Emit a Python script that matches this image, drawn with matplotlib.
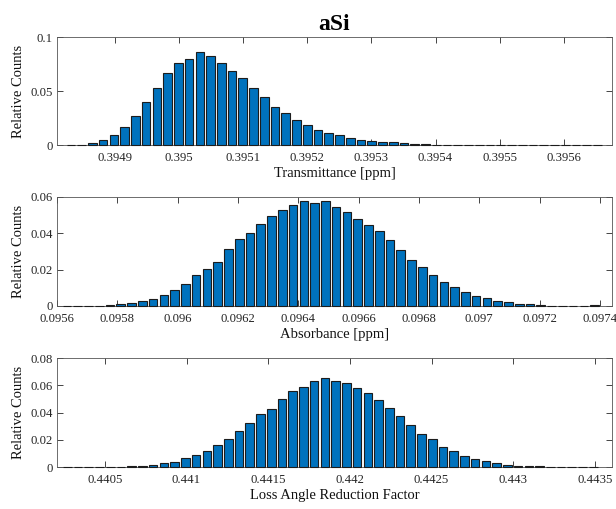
import numpy as np
import matplotlib
matplotlib.use("Agg")
import matplotlib.pyplot as plt
from matplotlib.ticker import FuncFormatter

# ---- histogram data (relative counts per bin, 50 bins each) ----
trans_first_center = 0.3948316
trans_bin_width = 1.675e-5
trans_counts = [
    0.0005, 0.0005, 0.0015, 0.0045, 0.009, 0.017, 0.027, 0.040, 0.053, 0.067,
    0.076, 0.080, 0.086, 0.083, 0.076, 0.069, 0.0617, 0.0525, 0.0441, 0.0355,
    0.0293, 0.0228, 0.0182, 0.0139, 0.0111, 0.009, 0.0065, 0.005, 0.0037, 0.0025,
    0.0025, 0.0015, 0.0012, 0.0008, 0.0005, 0.0004, 0.0003, 0.0003, 0.0002, 0.0002,
    0.0002, 0.0001, 0.0001, 0.0001, 0.0001, 0.0001, 0.0001, 0.0001, 0.0, 0.0001,
]

absorb_first_center = 0.095633
absorb_bin_width = 3.57e-5
absorb_counts = [
    0.0002, 0.0002, 0.0002, 0.0002, 0.0005, 0.001, 0.0018, 0.0026, 0.004, 0.006,
    0.0088, 0.012, 0.0173, 0.0203, 0.0243, 0.0313, 0.0366, 0.0401, 0.0453, 0.0495,
    0.0527, 0.0558, 0.0578, 0.0567, 0.0578, 0.0547, 0.0515, 0.0479, 0.0446, 0.0411,
    0.0363, 0.0309, 0.0252, 0.0213, 0.0173, 0.0131, 0.0103, 0.0079, 0.0052, 0.0044,
    0.0028, 0.002, 0.0013, 0.001, 0.0006, 0.0002, 0.0002, 0.0002, 0.0002, 0.0003,
]

loss_first_center = 0.44027
loss_bin_width = 6.57e-5
loss_counts = [
    0.0002, 0.0002, 0.0002, 0.0002, 0.0002, 0.0002, 0.0007, 0.0007, 0.0017, 0.0027,
    0.0039, 0.0064, 0.0086, 0.0121, 0.0158, 0.0209, 0.0263, 0.0322, 0.0386, 0.0428,
    0.0502, 0.0559, 0.0591, 0.0633, 0.0652, 0.063, 0.062, 0.0583, 0.0546, 0.0492,
    0.0431, 0.0372, 0.0305, 0.0246, 0.0204, 0.015, 0.0116, 0.0081, 0.0057, 0.0042,
    0.0027, 0.0017, 0.001, 0.0007, 0.0005, 0.0003, 0.0002, 0.0002, 0.0002, 0.0002,
]

# axis settings
trans_xlim = (0.39481, 0.395675)
trans_xticks = [0.3949, 0.3950, 0.3951, 0.3952, 0.3953, 0.3954, 0.3955, 0.3956]
trans_yticks = [0, 0.05, 0.1]

absorb_xlim = (0.0956, 0.09744)
absorb_xticks = [0.0956, 0.0958, 0.0960, 0.0962, 0.0964, 0.0966, 0.0968, 0.0970, 0.0972, 0.0974]
absorb_yticks = [0, 0.02, 0.04, 0.06]

loss_xlim = (0.440207, 0.443604)
loss_xticks = [0.4405, 0.4410, 0.4415, 0.4420, 0.4425, 0.4430, 0.4435]
loss_yticks = [0, 0.02, 0.04, 0.06, 0.08]

plt.rcParams["font.family"] = ["Liberation Serif", "DejaVu Serif"]

BAR_COLOR = "#0072BD"
EDGE_COLOR = "#1c1c1c"
AX_COLOR = "#262626"

fig = plt.figure(figsize=(6.16, 5.09), dpi=100)

panels = [
    ([0.0925, 0.715, 0.901, 0.212], trans_first_center, trans_bin_width, trans_counts,
     trans_xlim, trans_xticks, trans_yticks, "Transmittance [ppm]"),
    ([0.0925, 0.399, 0.901, 0.214], absorb_first_center, absorb_bin_width, absorb_counts,
     absorb_xlim, absorb_xticks, absorb_yticks, "Absorbance [ppm]"),
    ([0.0925, 0.0825, 0.901, 0.214], loss_first_center, loss_bin_width, loss_counts,
     loss_xlim, loss_xticks, loss_yticks, "Loss Angle Reduction Factor"),
]

fmt = FuncFormatter(lambda v, p: ("%.6g" % v))

axes = []
for rect, c0, bw, counts, xlim, xt, yt, xlabel in panels:
    ax = fig.add_axes(rect)
    centers = c0 + bw * np.arange(len(counts))
    bars = ax.bar(centers, counts, width=0.8 * bw, color=BAR_COLOR,
                  edgecolor=EDGE_COLOR, linewidth=0.8, zorder=3)
    for b in bars:
        b.set_clip_on(False)
    ax.set_xlim(*xlim)
    ax.set_ylim(yt[0], yt[-1])
    ax.set_xticks(xt)
    ax.set_yticks(yt)
    ax.xaxis.set_major_formatter(fmt)
    ax.yaxis.set_major_formatter(fmt)
    ax.tick_params(direction="in", top=True, right=True, length=4, width=0.6,
                   colors=AX_COLOR, labelsize=9.2, pad=3)
    ax.tick_params(axis="x", pad=5)
    for s in ax.spines.values():
        s.set_color("#555555")
        s.set_linewidth(0.6)
    ax.set_xlabel(xlabel, fontsize=10.5, color="#111111", labelpad=2)
    ax.set_ylabel("Relative Counts", fontsize=10.5, color="#111111", labelpad=4)
    axes.append(ax)

axes[0].set_title("aSi", fontsize=17, fontweight="bold", pad=5)

fig.savefig("out.png", dpi=100)
